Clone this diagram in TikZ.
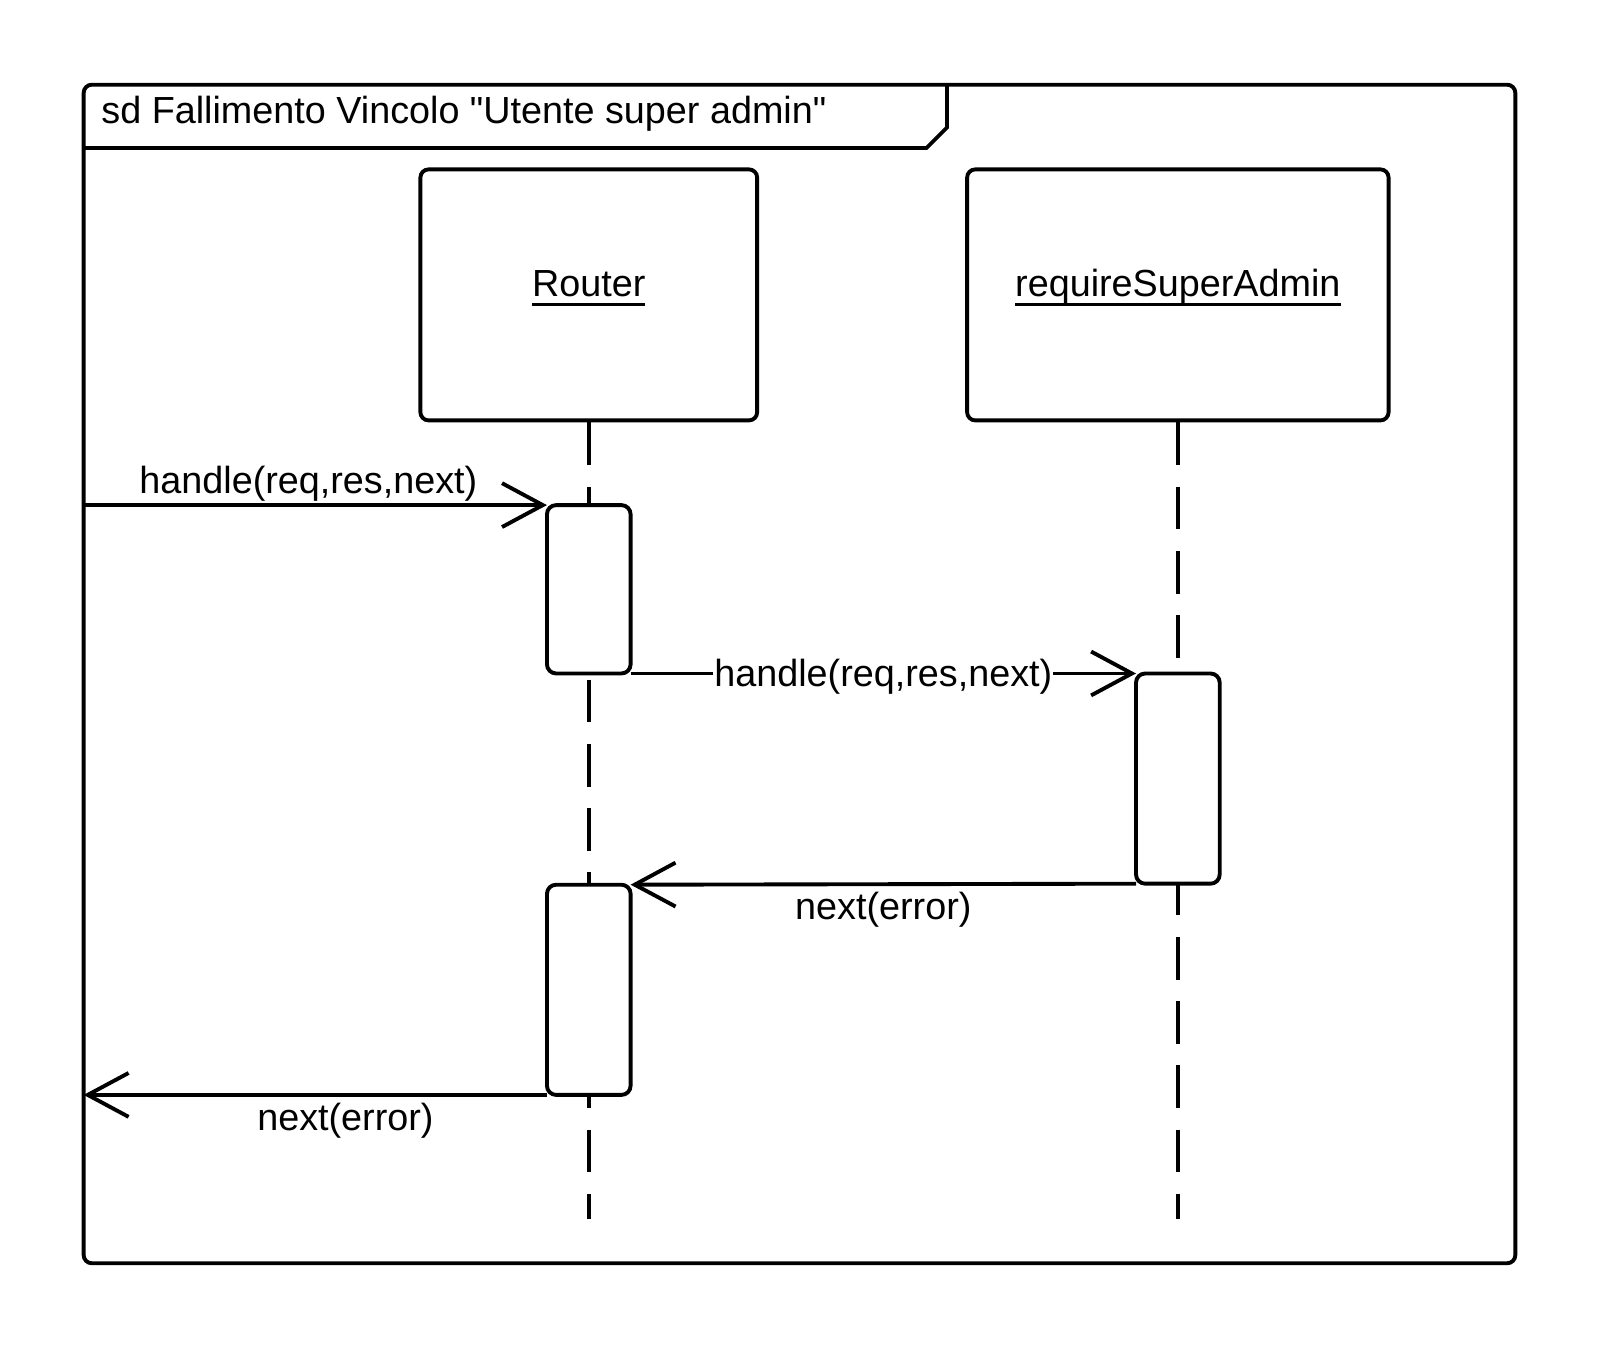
\documentclass[tikz,border=0pt]{standalone}
\usepackage{fontspec}
\setmainfont{Liberation Sans}
\usetikzlibrary{arrows.meta,positioning}
% underlined object name, #1 = how far the rule sits under the baseline
\newcommand{\uname}[2]{\setbox0\hbox{#2}\rlap{\usebox0}\rule[-#1]{\wd0}{2.8pt}}

\begin{document}
\begin{tikzpicture}[x=1pt,y=-1pt,>={Straight Barb[length=40pt,width=43pt]},line width=3.8pt,
  every node/.style={font=\fontsize{37}{44}\selectfont},
  obj/.style={draw,rounded corners=8pt,minimum height=246pt,inner sep=0pt,text height=28pt,text depth=24pt},
  act/.style={draw,fill=white,rounded corners=9pt,minimum width=82pt,inner sep=0pt,outer sep=0pt,anchor=north},
  life/.style={dash pattern=on 42pt off 21pt},
  lbl/.style={anchor=base,inner sep=0pt}]
  \useasboundingbox (0,0) rectangle (1568,1320);
  \node[draw,rounded corners=8pt,minimum width=1403pt,minimum height=1155pt,inner sep=0pt,outer sep=0pt] (frame) at (783.5,660.5) {};
  \draw (frame.west |- 0,145) -- (908,145) -- (928,125) -- (928,83);
  \node[anchor=base west,inner sep=0pt] (title) at (97.5,121) {sd Fallimento Vincolo \textquotedbl Utente super admin\textquotedbl};

  \node[obj,minimum width=330pt] (router) at (577,289) {\uname{9pt}{Router}};
  \node[obj,minimum width=413pt,right=202pt of router] (rsa) {\uname{9pt}{requireSuperAdmin}};

  \coordinate (routerEnd) at (577,1195);
  \coordinate (rsaEnd) at (rsa.south |- routerEnd);
  \draw[life] (router.south) -- (routerEnd);
  \draw[life] (rsa.south) -- (rsaEnd);

  \node[act,minimum height=165pt] (act1) at (577,495) {};
  \node[act,minimum height=206pt] (act2) at (rsa.south |- 0,660) {};
  \node[act,minimum height=206pt] (act3) at (577,867) {};

  \draw[->] (frame.west |- act1.north) -- (act1.north west)
        node[lbl,pos=0.485,yshift=11pt] {handle(req,res,next)};
  \draw[->] (act1.south east) -- (act2.north west)
        node[midway,fill=white,inner sep=1pt,yshift=-3.5pt] {handle(req,res,next)};
  \draw[->] (act2.south west) -- (act3.north east)
        node[lbl,midway,yshift=-35pt] {next(error)};
  \draw[->] (act3.south west) -- (frame.west |- act3.south)
        node[lbl,pos=0.435,yshift=-35pt] {next(error)};
\end{tikzpicture}
\end{document}
